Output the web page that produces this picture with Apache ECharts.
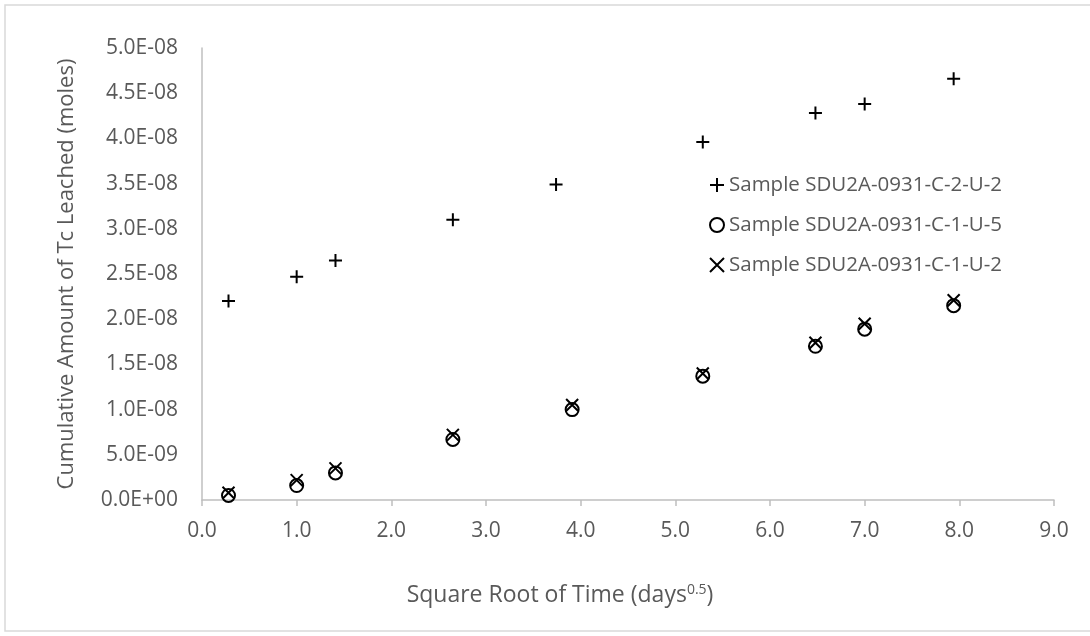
<!DOCTYPE html>
<html><head><meta charset="utf-8">
<script src="https://cdn.jsdelivr.net/npm/echarts@6/dist/echarts.min.js"></script>
<style>html,body{margin:0;padding:0;background:#fff}#c{width:1090px;height:636px}</style>
</head><body><div id="c"></div>
<script>
const seriesNames = ['Sample SDU2A-0931-C-2-U-2','Sample SDU2A-0931-C-1-U-5','Sample SDU2A-0931-C-1-U-2'];
const xPlus = [0.28, 1.0, 1.41, 2.65, 3.74, 5.29, 6.48, 7.0, 7.94];
const yPlus = [2.20e-8, 2.47e-8, 2.65e-8, 3.10e-8, 3.49e-8, 3.96e-8, 4.28e-8, 4.38e-8, 4.66e-8];
const xCirc = [0.28, 1.0, 1.41, 2.65, 3.91, 5.29, 6.48, 7.0, 7.94];
const yCirc = [5e-10, 1.6e-9, 3.0e-9, 6.7e-9, 1.0e-8, 1.37e-8, 1.70e-8, 1.89e-8, 2.15e-8];
const xCross = [0.28, 1.0, 1.41, 2.65, 3.91, 5.29, 6.48, 7.0, 7.94];
const yCross = [8e-10, 2.2e-9, 3.5e-9, 7.2e-9, 1.05e-8, 1.40e-8, 1.74e-8, 1.95e-8, 2.21e-8];
const xTickLabels = ['0.0','1.0','2.0','3.0','4.0','5.0','6.0','7.0','8.0','9.0'];
const yTickLabels = ['0.0E+00','5.0E-09','1.0E-08','1.5E-08','2.0E-08','2.5E-08','3.0E-08','3.5E-08','4.0E-08','4.5E-08','5.0E-08'];

const zip = (xs, ys) => xs.map((x, i) => [x, ys[i]]);
const FONT = 'Open Sans';
const GRAY = '#595959';
const plusPath = 'path://M0,5L10,5M5,0L5,10';
const crossPath = 'path://M0,0L10,10M10,0L0,10';
const chart = echarts.init(document.getElementById('c'), null, {renderer:'canvas'});
const mk = (name, data, symbol, size) => ({
  name, type:'scatter', data, symbol, symbolSize:size,
  itemStyle:{color:'rgba(0,0,0,0)', borderColor:'#000', borderWidth:2, opacity:1},
  emphasis:{disabled:true}
});
chart.setOption({
  animation:false,
  graphic:[{type:'rect', shape:{x:5,y:5,width:1100,height:626}, style:{fill:'none', stroke:'#D9D9D9', lineWidth:1.5}, silent:true, z:-1}],
  title:{
    text:'{a|Square Root of Time (days}{s|0.5}{a|)}',
    left:555, top:578, textAlign:'center',
    textStyle:{fontWeight:'normal', rich:{
      a:{fontFamily:FONT, fontSize:23, fontWeight:'normal', color:GRAY},
      s:{fontFamily:FONT, fontSize:14, fontWeight:'normal', color:GRAY, verticalAlign:'top', padding:[0,0,10,0]}
    }}
  },
  grid:{left:202, right:36, top:48, bottom:136, containLabel:false},
  legend:{
    orient:'vertical', left:704, top:168, itemGap:16, itemWidth:14, itemHeight:14,
    textStyle:{fontFamily:FONT, fontSize:20.5, color:GRAY, lineHeight:24},
    data:seriesNames
  },
  xAxis:{
    type:'value', min:0, max:9, interval:1,
    axisLine:{show:true, lineStyle:{color:'#BFBFBF', width:1.5}},
    axisTick:{show:true, length:6, lineStyle:{color:'#BFBFBF', width:1.5}},
    splitLine:{show:false},
    axisLabel:{margin:21, fontFamily:FONT, fontSize:21, color:GRAY, formatter:(v)=>xTickLabels[Math.round(v)]}
  },
  yAxis:{
    type:'value', min:0, max:5e-8, interval:5e-9,
    name:'Cumulative Amount of Tc Leached (moles)', nameLocation:'middle', nameGap:124,
    nameTextStyle:{fontFamily:FONT, fontSize:22, color:GRAY},
    axisLine:{show:true, lineStyle:{color:'#BFBFBF', width:1.5}},
    axisTick:{show:false},
    splitLine:{show:false},
    axisLabel:{margin:24, fontFamily:FONT, fontSize:21, color:GRAY, formatter:(v)=>yTickLabels[Math.round(v/5e-9)]}
  },
  series:[
    mk(seriesNames[0], zip(xPlus,yPlus), plusPath, 13),
    mk(seriesNames[1], zip(xCirc,yCirc), 'circle', 13),
    mk(seriesNames[2], zip(xCross,yCross), crossPath, 12)
  ]
});
</script></body></html>
